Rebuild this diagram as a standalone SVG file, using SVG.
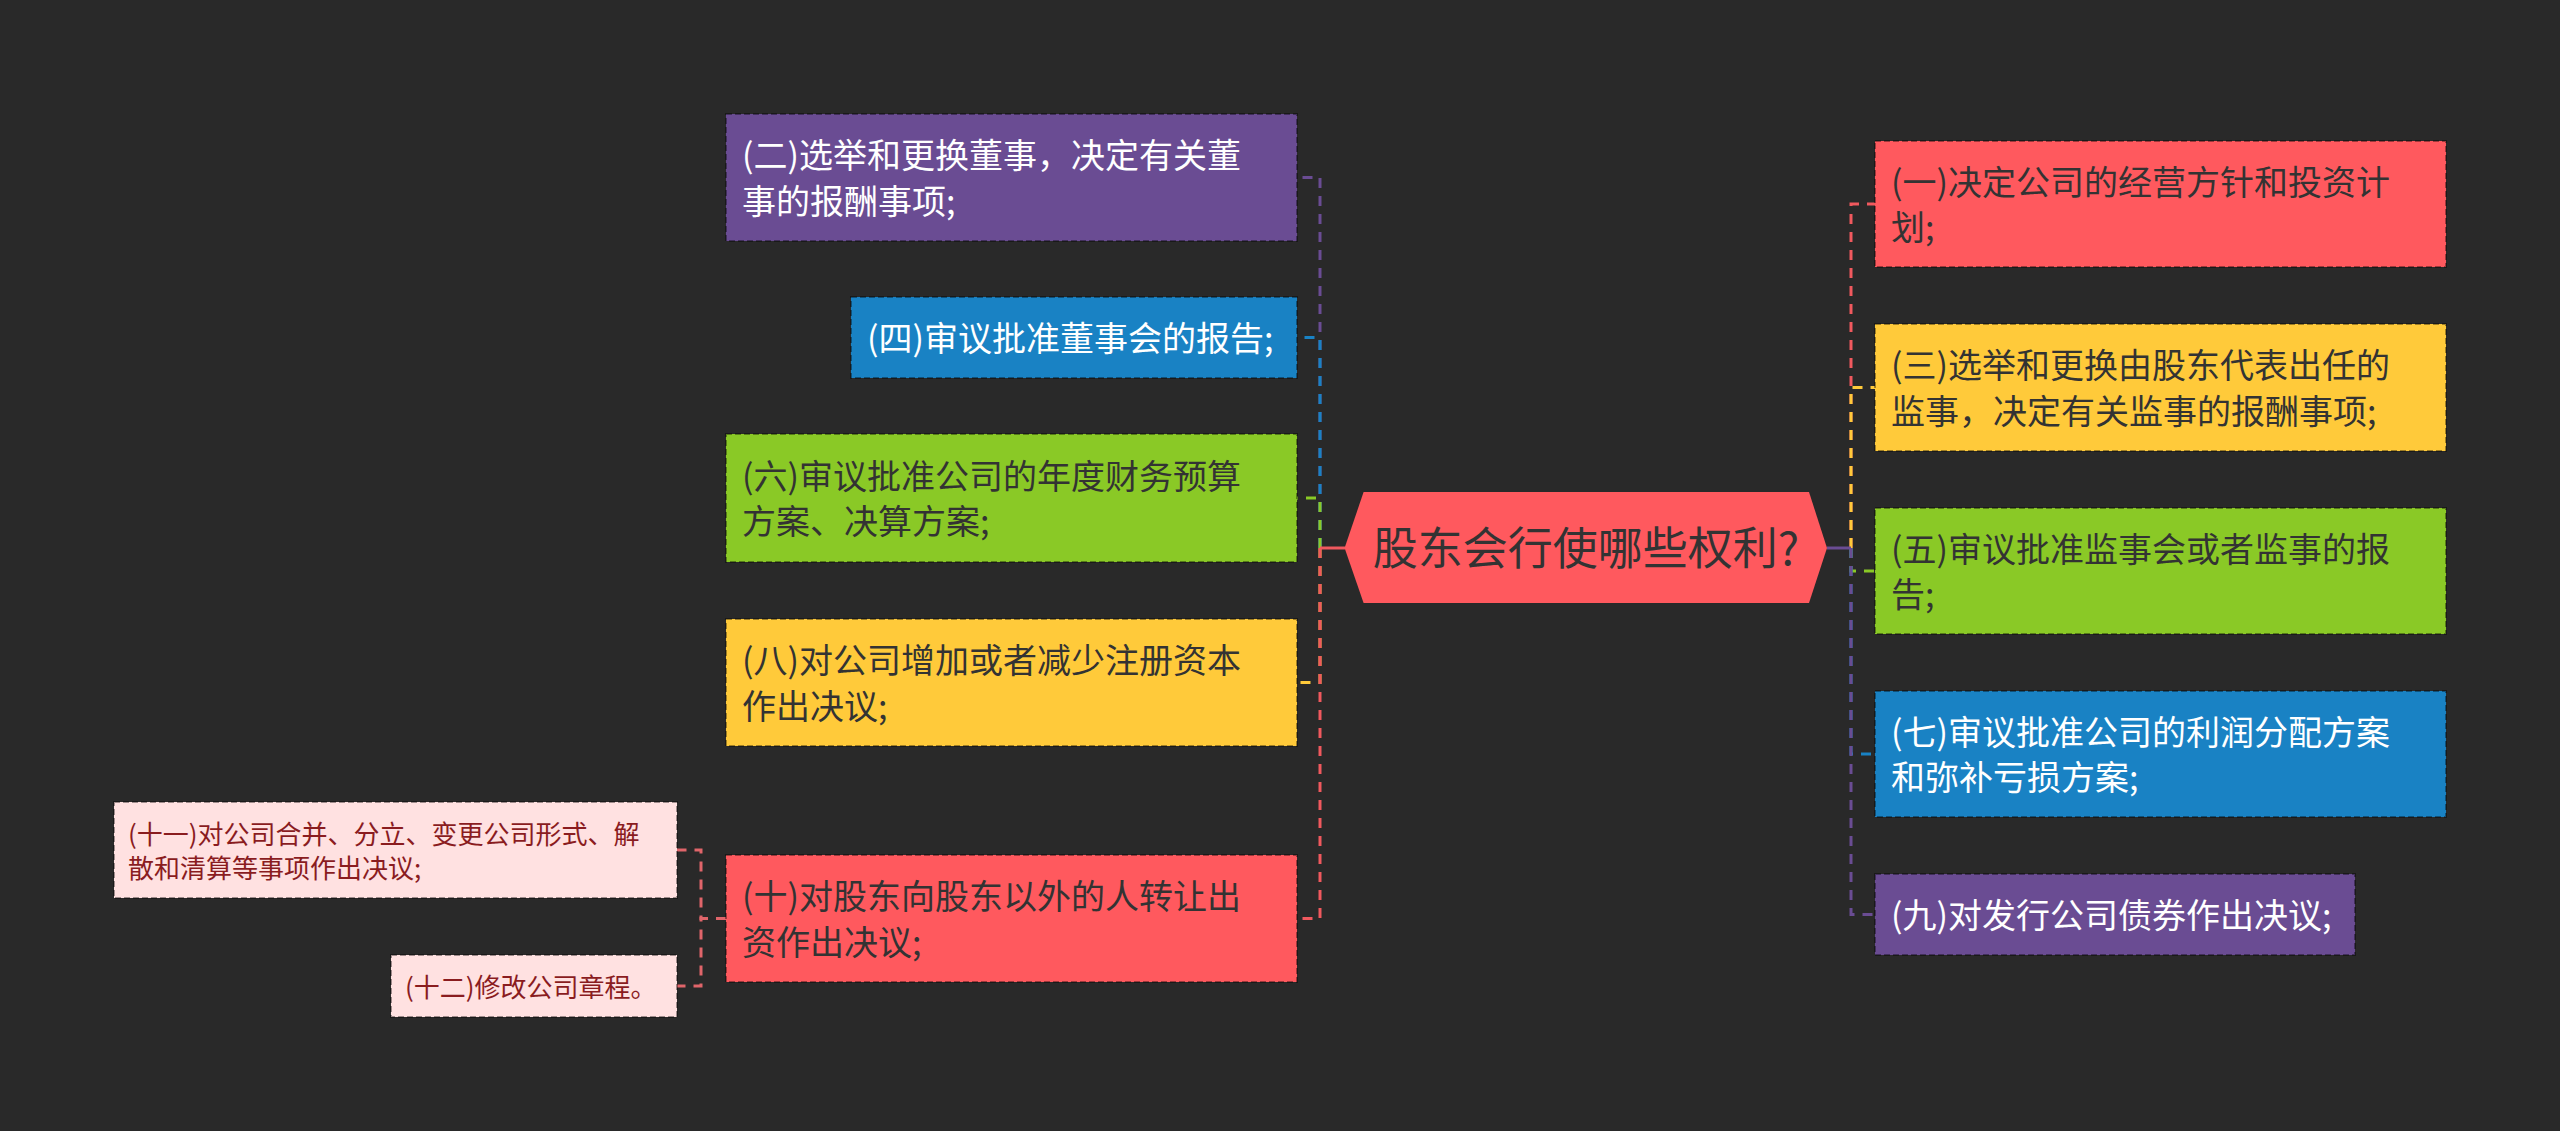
<svg xmlns="http://www.w3.org/2000/svg" width="2560" height="1131" viewBox="0 0 2560 1131">
<style>
.t{font-family:"Noto Sans CJK SC","Noto Sans",sans-serif;font-size:34px}
.s{font-family:"Noto Sans CJK SC","Noto Sans",sans-serif;font-size:26px;fill:#8a1c1f}
.w{fill:#ffffff}
.d{fill:#333333}
.box{stroke:#000;stroke-opacity:0.38;stroke-width:2;stroke-dasharray:6 3}
.c{fill:none;stroke-width:3;stroke-dasharray:10 8}
.red{fill:#FF595E}.yel{fill:#FFCA3A}.grn{fill:#8AC926}.blu{fill:#1982C4}.pur{fill:#6A4C93}.pnk{fill:#FFE1E1}
</style>
<rect width="2560" height="1131" fill="#292929"/>
<g id="connectors">
<path class="c" stroke="#6A4C93" d="M1320,548 V177.5 H1297"/>
<path class="c" stroke="#1982C4" d="M1320,548 V337.5 H1297"/>
<path class="c" stroke="#8AC926" d="M1320,548 V498 H1297"/>
<path class="c" stroke="#FFCA3A" d="M1320,548 V682.5 H1297"/>
<path class="c" stroke="#F0595E" d="M1320,548 V918.5 H1297"/>
<path fill="none" stroke="#F0595E" stroke-width="3" d="M1345,548 H1320"/>
<path class="c" stroke="#F0595E" d="M1851,548 V204 H1875"/>
<path class="c" stroke="#FFCA3A" d="M1851,548 V387.5 H1875"/>
<path class="c" stroke="#8AC926" d="M1851,548 V571 H1875"/>
<path class="c" stroke="#1982C4" d="M1851,548 V754 H1875"/>
<path class="c" stroke="#6A4C93" d="M1851,548 V914.5 H1875"/>
<path fill="none" stroke="#6A4C93" stroke-width="3" d="M1827,548 H1851"/>
<path class="c" stroke="#E0656A" d="M726,918.5 H701 V850 H677"/>
<path class="c" stroke="#E0656A" d="M726,918.5 H701 V986 H677"/>
</g>
<g id="center">
<polygon points="1344.6,548 1363.6,492 1809,492 1827,548 1809,603 1363.6,603" fill="#FF595E"/>
<text x="1586" y="565" text-anchor="middle" class="d" style="font-family:'Noto Sans CJK SC','Noto Sans',sans-serif;font-size:45px">股东会行使哪些权利?</text>
</g>
<g id="n2"><rect class="box pur" x="726" y="114" width="571" height="127"/><text class="t w" x="742" y="168">(二)选举和更换董事，决定有关董</text><text class="t w" x="742" y="213.5">事的报酬事项;</text></g>
<g id="n4"><rect class="box blu" x="851" y="297" width="446" height="81"/><text class="t w" x="867" y="350.5">(四)审议批准董事会的报告;</text></g>
<g id="n6"><rect class="box grn" x="726" y="434" width="571" height="128"/><text class="t d" x="742" y="488.5">(六)审议批准公司的年度财务预算</text><text class="t d" x="742" y="534">方案、决算方案;</text></g>
<g id="n8"><rect class="box yel" x="726" y="619" width="571" height="127"/><text class="t d" x="742" y="673">(八)对公司增加或者减少注册资本</text><text class="t d" x="742" y="718.5">作出决议;</text></g>
<g id="n10"><rect class="box red" x="726" y="855" width="571" height="127"/><text class="t d" x="742" y="909">(十)对股东向股东以外的人转让出</text><text class="t d" x="742" y="954.5">资作出决议;</text></g>
<g id="n11"><rect class="box pnk" x="114" y="802" width="563" height="96"/><text class="s" x="128" y="844">(十一)对公司合并、分立、变更公司形式、解</text><text class="s" x="128" y="878">散和清算等事项作出决议;</text></g>
<g id="n12"><rect class="box pnk" x="391" y="955" width="286" height="62"/><text class="s" x="405" y="997">(十二)修改公司章程。</text></g>
<g id="n1"><rect class="box red" x="1875" y="141" width="571" height="126"/><text class="t d" x="1891" y="194.5">(一)决定公司的经营方针和投资计</text><text class="t d" x="1891" y="240">划;</text></g>
<g id="n3"><rect class="box yel" x="1875" y="324" width="571" height="127"/><text class="t d" x="1891" y="378">(三)选举和更换由股东代表出任的</text><text class="t d" x="1891" y="423.5">监事，决定有关监事的报酬事项;</text></g>
<g id="n5"><rect class="box grn" x="1875" y="508" width="571" height="126"/><text class="t d" x="1891" y="561.5">(五)审议批准监事会或者监事的报</text><text class="t d" x="1891" y="607">告;</text></g>
<g id="n7"><rect class="box blu" x="1875" y="691" width="571" height="126"/><text class="t w" x="1891" y="744.5">(七)审议批准公司的利润分配方案</text><text class="t w" x="1891" y="790">和弥补亏损方案;</text></g>
<g id="n9"><rect class="box pur" x="1875" y="874" width="480" height="81"/><text class="t w" x="1891" y="927.5">(九)对发行公司债券作出决议;</text></g>
</svg>
